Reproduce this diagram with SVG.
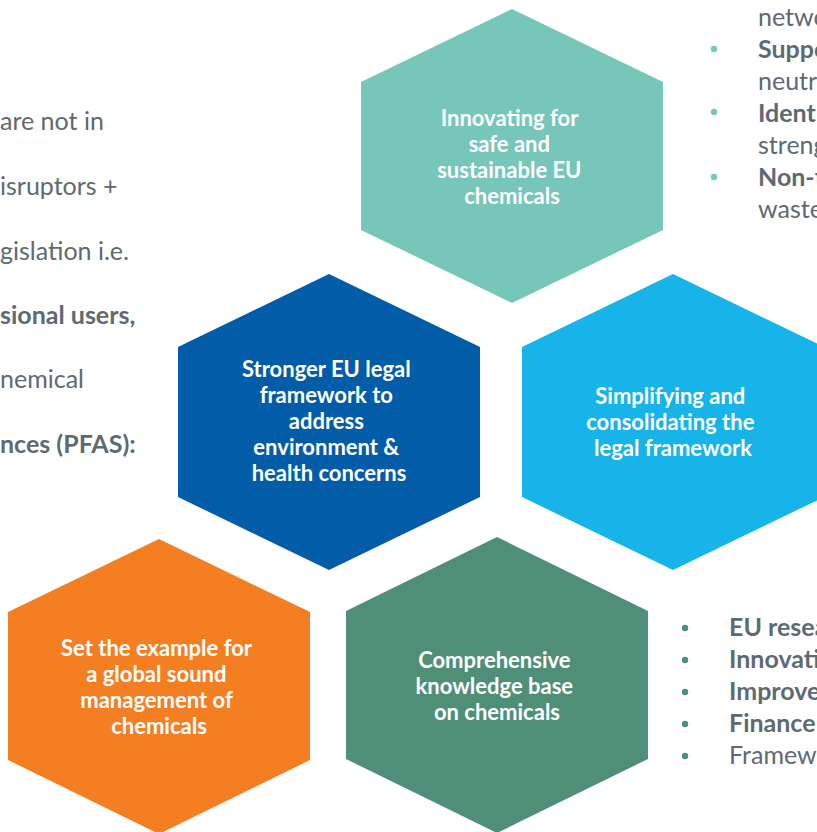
<svg xmlns="http://www.w3.org/2000/svg" width="817" height="832" viewBox="0 0 817 832">
  <style>
    .hex-label { font-family: Lato, "Liberation Sans", sans-serif; font-weight: 700; font-size: 22px; fill: #ffffff; text-anchor: middle; }
    .copy { font-family: Lato, "Liberation Sans", sans-serif; font-size: 25px; fill: #5E6A71; }
    .strong { font-weight: 700; }
    .dot-teal { fill: #76C6B9; }
    .dot-green { fill: #4F8F78; }
  </style>

  <rect width="817" height="832" fill="#ffffff"/>

  <!-- Left column of text, running in from the left edge -->
  <g id="left-text" class="copy">
    <text x="0" y="130">are not in</text>
    <text x="0" y="195">isruptors +</text>
    <text x="0" y="260">gislation i.e.</text>
    <text x="0" y="324" class="strong">sional users,</text>
    <text x="0" y="388">nemical</text>
    <text x="0" y="453" class="strong">nces (PFAS):</text>
  </g>

  <!-- Top right bullet list, running off the right edge -->
  <g id="top-right-list" class="copy">
    <circle class="dot-teal" cx="714" cy="49" r="3.2"/>
    <circle class="dot-teal" cx="714" cy="112" r="3.2"/>
    <circle class="dot-teal" cx="714" cy="177" r="3.2"/>
    <text x="758" y="25.5">netwo</text>
    <text x="758" y="57.5" class="strong">Suppo</text>
    <text x="758" y="89.5">neutr</text>
    <text x="758" y="121.5" class="strong">Ident</text>
    <text x="758" y="153.5">streng</text>
    <text x="758" y="185.5" class="strong">Non-t</text>
    <text x="758" y="217.5">waste</text>
  </g>

  <!-- Bottom right bullet list -->
  <g id="bottom-right-list" class="copy">
    <circle class="dot-green" cx="685" cy="628" r="3.2"/>
    <circle class="dot-green" cx="685" cy="660" r="3.2"/>
    <circle class="dot-green" cx="685" cy="692" r="3.2"/>
    <circle class="dot-green" cx="685" cy="724" r="3.2"/>
    <circle class="dot-green" cx="685" cy="756" r="3.2"/>
    <text x="729" y="636" class="strong">EU resea</text>
    <text x="729" y="668" class="strong">Innovati</text>
    <text x="729" y="700" class="strong">Improve</text>
    <text x="729" y="732" class="strong">Finance</text>
    <text x="729" y="764">Framew</text>
  </g>

  <!-- Hexagon nodes -->
  <g id="innovating">
    <polygon points="512,9 663,82 663,230 512,303 361,230 361,82" fill="#76C6B9"/>
    <text class="hex-label">
      <tspan x="512" y="126">Innovating for</tspan>
      <tspan x="512" y="152">safe and</tspan>
      <tspan x="512" y="178">sustainable EU</tspan>
      <tspan x="512" y="203.5">chemicals</tspan>
    </text>
  </g>

  <g id="stronger-framework">
    <polygon points="329,274 480,347 480,497 329,570 178,497 178,347" fill="#035CA8"/>
    <text class="hex-label">
      <tspan x="329" y="377">Stronger EU legal</tspan>
      <tspan x="329" y="403">framework to</tspan>
      <tspan x="329" y="429">address</tspan>
      <tspan x="329" y="455">environment &amp;</tspan>
      <tspan x="329" y="481">health concerns</tspan>
    </text>
  </g>

  <g id="simplifying">
    <polygon points="673,274 824,347 824,497 673,570 522,497 522,347" fill="#16B4E9"/>
    <text class="hex-label">
      <tspan x="673" y="403.5">Simplifying and</tspan>
      <tspan x="673" y="429.5">consolidating the</tspan>
      <tspan x="673" y="455.5">legal framework</tspan>
    </text>
  </g>

  <g id="global-example">
    <polygon points="159,539 310,612 310,760 159,834 8,760 8,612" fill="#F47E22"/>
    <text class="hex-label">
      <tspan x="159" y="655.5">Set the example for</tspan>
      <tspan x="159" y="681.5">a global sound</tspan>
      <tspan x="159" y="707.5">management of</tspan>
      <tspan x="159" y="733.5">chemicals</tspan>
    </text>
  </g>

  <g id="knowledge-base">
    <polygon points="497,537 648,611 648,759 497,833 346,759 346,611" fill="#4F8F78"/>
    <text class="hex-label">
      <tspan x="497" y="667.5">Comprehensive</tspan>
      <tspan x="497" y="694">knowledge base</tspan>
      <tspan x="497" y="720">on chemicals</tspan>
    </text>
  </g>
</svg>
